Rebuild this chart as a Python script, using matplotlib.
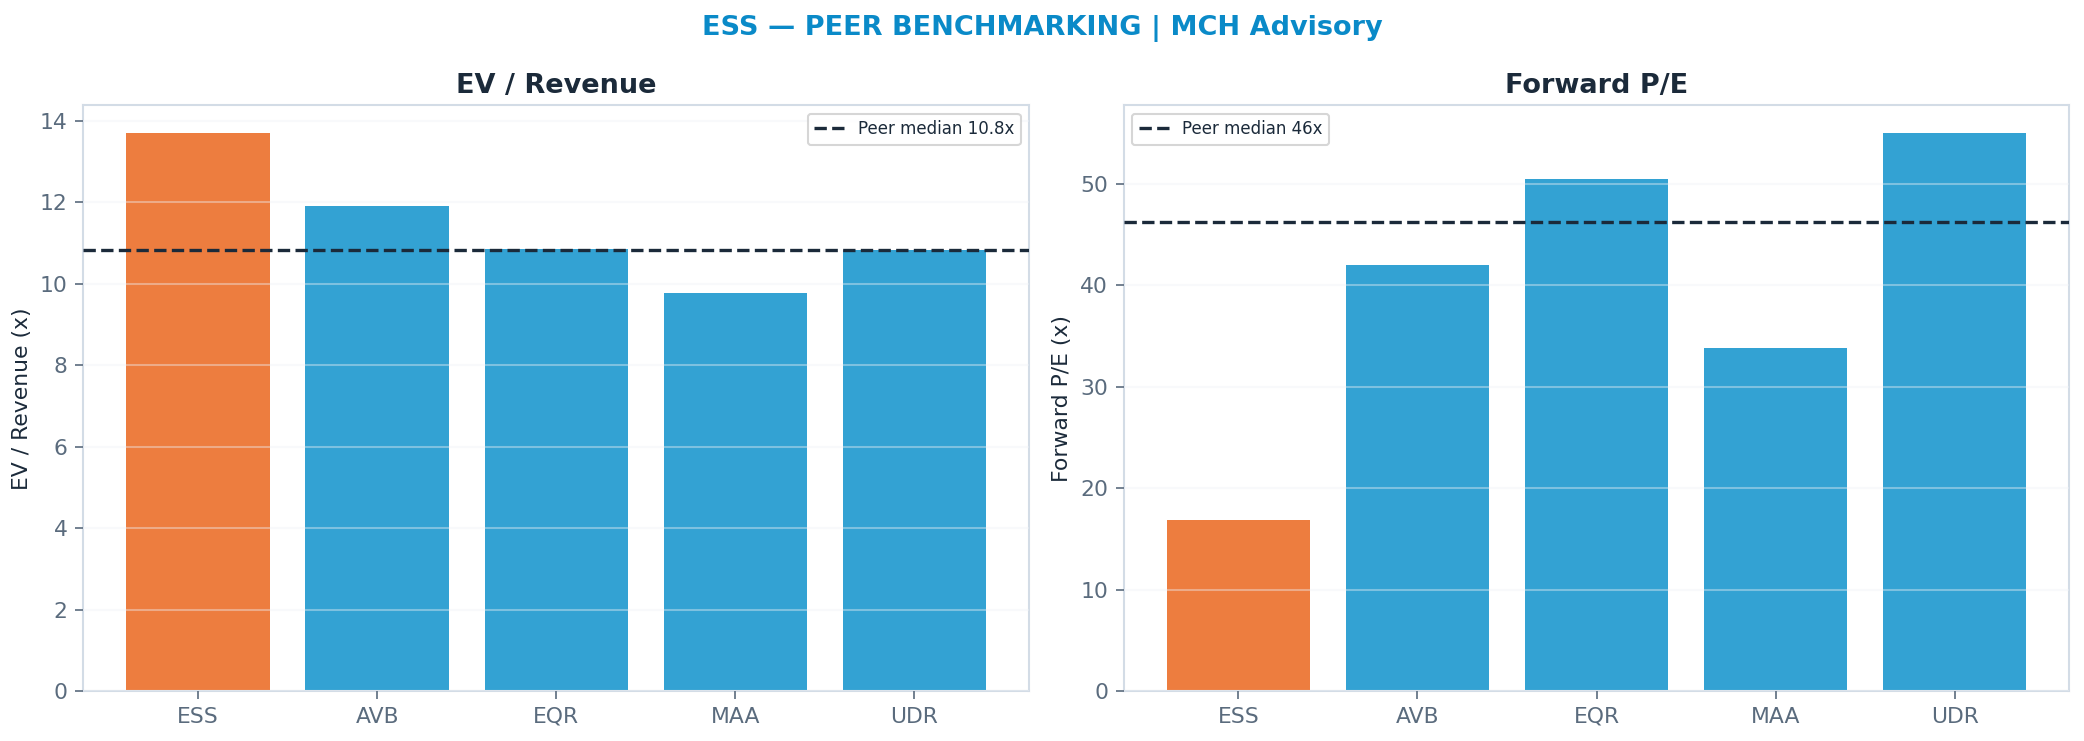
import matplotlib
matplotlib.use("Agg")
import matplotlib.pyplot as plt
import numpy as np

tickers = ["ESS", "AVB", "EQR", "MAA", "UDR"]
ev_revenue = [13.7, 11.9, 10.85, 9.78, 10.83]
fwd_pe = [16.9, 42.0, 50.5, 33.8, 55.0]
ev_median_label = "Peer median 10.8x"
pe_median_label = "Peer median 46x"

ORANGE = "#ED7D3F"
BLUE = "#33A2D3"
NAVY = "#1B2A3A"
GRAYTXT = "#5A6B7D"
SPINE = "#D3DCE6"

plt.rcParams["font.family"] = "DejaVu Sans"

fig, axes = plt.subplots(1, 2, figsize=(2084 / 150, 741 / 150), dpi=150)
fig.subplots_adjust(left=0.040, right=0.993, bottom=0.067, top=0.858, wspace=0.10)

panels = [
    (axes[0], ev_revenue, "EV / Revenue", "EV / Revenue (x)", ev_median_label, "upper right"),
    (axes[1], fwd_pe, "Forward P/E", "Forward P/E (x)", pe_median_label, "upper left"),
]

for ax, vals, title, ylabel, mlabel, loc in panels:
    colors = [ORANGE if t == "ESS" else BLUE for t in tickers]
    x = np.arange(len(tickers))
    ax.bar(x, vals, color=colors, width=0.8, zorder=2)
    peers = vals[1:]
    med = float(np.median(peers))
    ax.axhline(med, color=NAVY, linestyle="--", linewidth=1.6, label=mlabel, zorder=3)
    ax.set_xticks(x)
    ax.set_xticklabels(tickers)
    ax.set_title(title, fontsize=13, fontweight="bold", color=NAVY, pad=6)
    ax.set_ylabel(ylabel, fontsize=10.5, color=NAVY)
    ax.tick_params(axis="both", colors=GRAYTXT, labelsize=10.5, length=4, color=GRAYTXT)
    ax.yaxis.grid(True, color="#EEF2F6", linewidth=1.0, alpha=0.4, zorder=2.5)
    ax.set_axisbelow(False)
    for s in ax.spines.values():
        s.set_color(SPINE)
        s.set_linewidth(1.0)
    leg = ax.legend(loc=loc, fontsize=8, frameon=True, handlelength=1.8)
    for t in leg.get_texts():
        t.set_color(NAVY)
    leg.get_frame().set_edgecolor("#CCCCCC")

fig.suptitle("ESS — PEER BENCHMARKING | MCH Advisory", fontsize=13,
             fontweight="bold", color="#0A8AC8", y=0.98)

fig.savefig("out.png", dpi=150, facecolor="white")
